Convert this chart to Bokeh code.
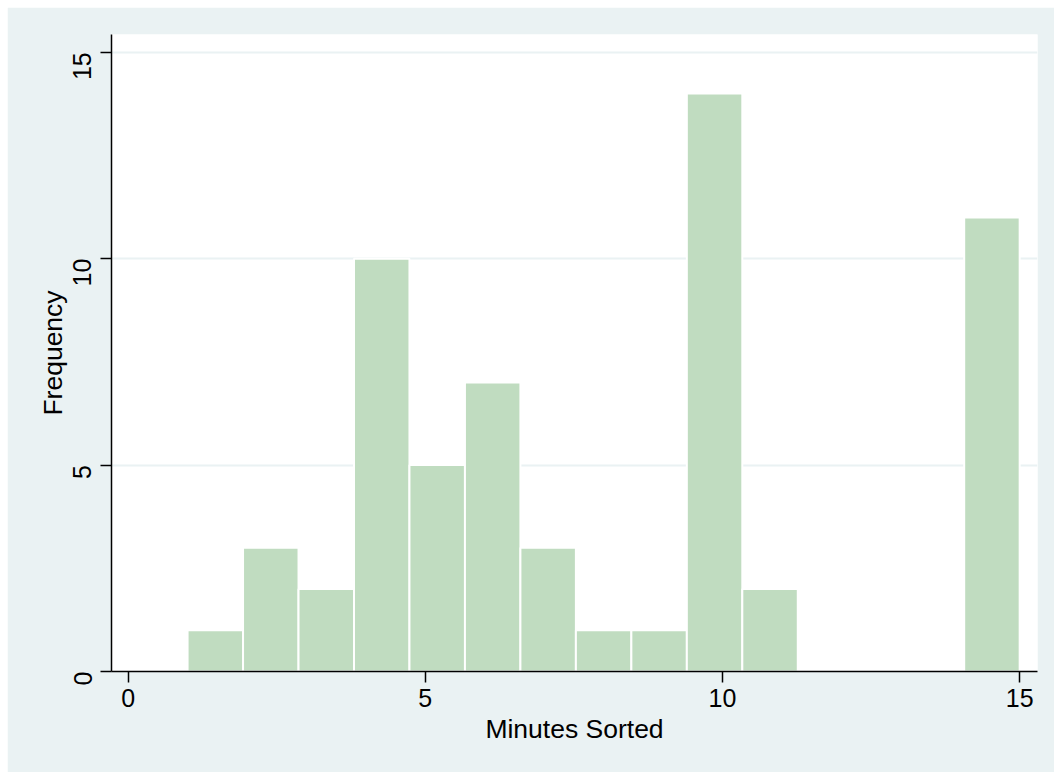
import numpy as np
from bokeh.plotting import figure
from bokeh.models import FixedTicker, ColumnDataSource
from bokeh.embed import file_html
from bokeh.resources import INLINE

# Histogram definition (15 bins from 1 to 15)
bin_start = 1.0
bin_end = 15.0
counts = [1, 3, 2, 10, 5, 7, 3, 1, 1, 14, 2, 0, 0, 0, 11]
x_ticks = [0, 5, 10, 15]
y_ticks = [0, 5, 10, 15]
x_label = "Minutes Sorted"
y_label = "Frequency"

edges = np.linspace(bin_start, bin_end, len(counts) + 1)
src = ColumnDataSource(dict(left=edges[:-1], right=edges[1:], top=counts,
                            bottom=[0] * len(counts)))

BG = "#EAF2F3"
FONT = "Liberation Sans"

p = figure(width=1047, height=765, output_backend="svg", toolbar_location=None,
           x_range=(-0.28, 15.30), y_range=(0, 15.43),
           min_border_left=104, min_border_right=17, min_border_top=27,
           min_border_bottom=101)
p.margin = (7, 0, 0, 7)
p.border_fill_color = BG
p.background_fill_color = "white"
p.outline_line_color = None

p.quad(left="left", right="right", top="top", bottom="bottom", source=src,
       fill_color="#C0DCC0", line_color="white", line_width=2)

p.xgrid.grid_line_color = None
p.ygrid.grid_line_color = BG
p.ygrid.grid_line_width = 2
p.ygrid.ticker = FixedTicker(ticks=y_ticks)

for ax in (p.xaxis[0], p.yaxis[0]):
    ax.axis_line_color = "black"
    ax.axis_line_width = 1.5
    ax.major_tick_line_color = "black"
    ax.major_tick_line_width = 1.5
    ax.major_tick_out = 11
    ax.major_tick_in = 0
    ax.minor_tick_line_color = None
    ax.major_label_text_font = FONT
    ax.major_label_text_font_size = "25px"
    ax.major_label_text_color = "black"
    ax.axis_label_text_font = FONT
    ax.axis_label_text_font_size = "26.5px"
    ax.axis_label_text_font_style = "normal"
    ax.axis_label_text_color = "black"

p.xaxis.ticker = FixedTicker(ticks=x_ticks)
p.yaxis.ticker = FixedTicker(ticks=y_ticks)
p.xaxis.axis_label = x_label
p.yaxis.axis_label = y_label
p.yaxis.major_label_orientation = np.pi / 2
p.xaxis.major_label_standoff = 6
p.yaxis.major_label_standoff = 18
p.xaxis.axis_label_standoff = 4
p.yaxis.axis_label_standoff = -6

open("out.html", "w").write(file_html(p, INLINE))
